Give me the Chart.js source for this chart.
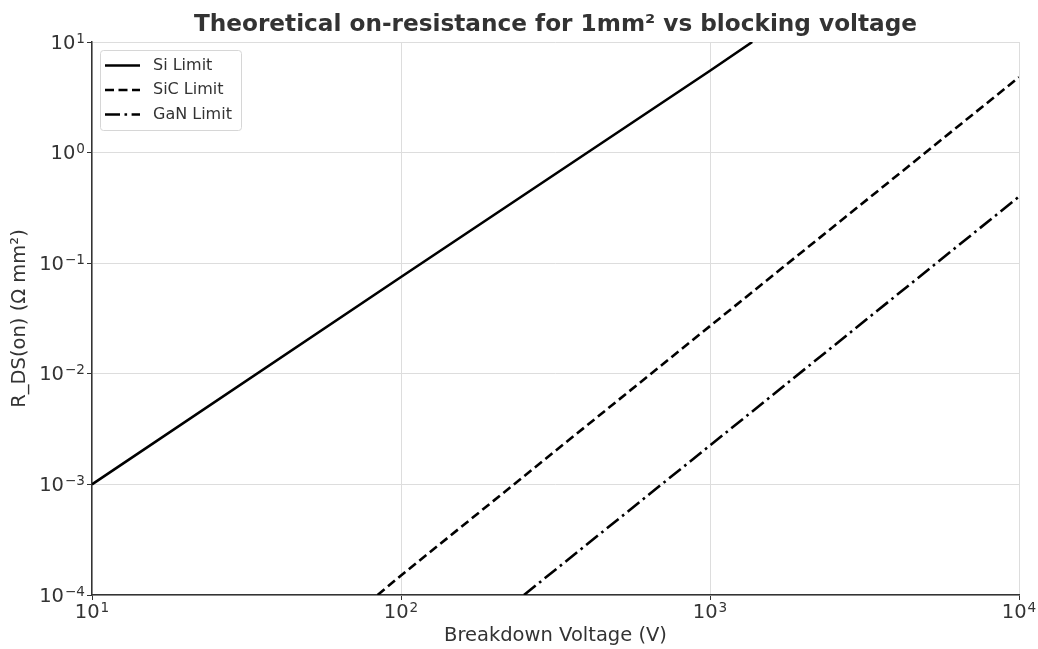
<!DOCTYPE html>
<html>
<head>
<meta charset="utf-8">
<script src="https://cdn.jsdelivr.net/npm/chart.js@4/dist/chart.umd.min.js"></script>
<style>
html,body{margin:0;padding:0;background:#fff;}
#wrap{width:1038px;height:649px;position:relative;}
</style>
</head>
<body>
<div id="wrap"><canvas id="c" width="1038" height="649"></canvas></div>
<script>
// Data (log-log straight lines)
const siVoltage = [10, 100, 1000, 1370];
const siResistance = [0.001, 0.075, 5.5, 10];
const sicVoltage = [84, 100, 1000, 10000];
const sicResistance = [0.0001, 0.00015, 0.027, 4.8];
const ganVoltage = [250, 1000, 10000];
const ganResistance = [0.0001, 0.00225, 0.40];
const seriesLabels = ['Si Limit', 'SiC Limit', 'GaN Limit'];
const xTickValues = [10, 100, 1000, 10000];
const yTickValues = [0.0001, 0.001, 0.01, 0.1, 1, 10];
const chartTitle = 'Theoretical on-resistance for 1mm² vs blocking voltage';
const xTitle = 'Breakdown Voltage (V)';
const yTitle = 'R_DS(on) (Ω mm²)';

const toPoints = (xs, ys) => xs.map((x, i) => ({x: x, y: ys[i]}));
function expOf(v) {
  const e = Math.round(Math.log10(v));
  return (e < 0 ? '\u2212' : '') + Math.abs(e);
}
function keepTicks(list) {
  return function(scale) {
    scale.ticks = list.map(v => ({value: v}));
  };
}

const FONT = "'DejaVu Sans', sans-serif";
const TXT = '#333333';
const BASE = 19.5, SUP = 13.6;

// draws "10^e" with a real superscript; anchor: 'center' (x axis) or 'right' (y axis)
function drawPow(ctx, v, x, y, anchor) {
  const e = expOf(v);
  ctx.font = BASE + 'px ' + FONT;
  const wb = ctx.measureText('10').width;
  ctx.font = SUP + 'px ' + FONT;
  const we = ctx.measureText(e).width;
  const total = wb + 1 + we;
  const left = anchor === 'center' ? x - total / 2 : x - total;
  ctx.textAlign = 'left';
  ctx.textBaseline = 'middle';
  ctx.font = BASE + 'px ' + FONT;
  ctx.fillText('10', left, y);
  ctx.textBaseline = 'alphabetic';
  ctx.font = SUP + 'px ' + FONT;
  ctx.fillText(e, left + wb + 1, y - 1);
}

const decorations = {
  id: 'decorations',
  afterDraw(chart) {
    const ctx = chart.ctx;
    const a = chart.chartArea;
    const xs = chart.scales.x, ys = chart.scales.y;
    ctx.save();
    ctx.fillStyle = TXT;
    // title centred over the plot area
    ctx.font = 'bold 23.2px ' + FONT;
    ctx.textAlign = 'center';
    ctx.textBaseline = 'middle';
    ctx.fillText(chartTitle, (a.left + a.right) / 2, 24.5);
    // tick labels
    xTickValues.forEach(v => drawPow(ctx, v, xs.getPixelForValue(v), a.bottom + 18, 'center'));
    yTickValues.forEach(v => drawPow(ctx, v, a.left - 7, ys.getPixelForValue(v) + 1.5, 'right'));
    // axis titles
    ctx.font = '19.5px ' + FONT;
    ctx.textAlign = 'center';
    ctx.textBaseline = 'middle';
    ctx.fillText(xTitle, (a.left + a.right) / 2, 636);
    ctx.translate(20, (a.top + a.bottom) / 2);
    ctx.rotate(-Math.PI / 2);
    ctx.fillText(yTitle, 0, 0);
    ctx.restore();
  },
  afterDatasetsDraw(chart) {
    const ctx = chart.ctx;
    const a = chart.chartArea;
    const x0 = a.left + 8, y0 = a.top + 8, w = 141, h = 80;
    ctx.save();
    ctx.fillStyle = 'rgba(255,255,255,0.9)';
    ctx.strokeStyle = '#d6d6d6';
    ctx.lineWidth = 1;
    ctx.beginPath();
    ctx.roundRect(x0 + 0.5, y0 + 0.5, w, h, 3);
    ctx.fill();
    ctx.stroke();
    ctx.font = '16px ' + FONT;
    ctx.textBaseline = 'middle';
    ctx.textAlign = 'left';
    chart.data.datasets.forEach((ds, i) => {
      const yy = y0 + 15.5 + i * 24.5;
      ctx.strokeStyle = ds.borderColor;
      ctx.lineWidth = ds.borderWidth;
      ctx.setLineDash(ds.borderDash || []);
      ctx.beginPath();
      ctx.moveTo(x0 + 5, yy);
      ctx.lineTo(x0 + 40, yy);
      ctx.stroke();
      ctx.setLineDash([]);
      ctx.fillStyle = TXT;
      ctx.fillText(ds.label, x0 + 53, yy);
    });
    ctx.restore();
  }
};

new Chart(document.getElementById('c'), {
  type: 'line',
  data: {
    datasets: [
      {label: seriesLabels[0], data: toPoints(siVoltage, siResistance), borderColor: '#000', borderWidth: 2.6, pointRadius: 0, borderDash: []},
      {label: seriesLabels[1], data: toPoints(sicVoltage, sicResistance), borderColor: '#000', borderWidth: 2.6, pointRadius: 0, borderDash: [9, 4.5]},
      {label: seriesLabels[2], data: toPoints(ganVoltage, ganResistance), borderColor: '#000', borderWidth: 2.6, pointRadius: 0, borderDash: [15, 4.5, 2.6, 4.5]}
    ]
  },
  options: {
    responsive: false,
    animation: false,
    events: [],
    layout: {padding: {left: 0, right: 19, top: 42, bottom: 0}},
    plugins: {
      legend: {display: false},
      tooltip: {enabled: false},
      title: {display: false}
    },
    scales: {
      x: {
        type: 'logarithmic',
        min: 10, max: 10000,
        afterBuildTicks: keepTicks(xTickValues),
        afterFit(scale) { scale.height = 54; },
        ticks: {autoSkip: false, maxRotation: 0, callback: () => ''},
        grid: {color: '#dddddd', lineWidth: 1, tickColor: '#333', tickLength: 5},
        border: {display: true, color: '#333', width: 1.5}
      },
      y: {
        type: 'logarithmic',
        min: 0.0001, max: 10,
        afterBuildTicks: keepTicks(yTickValues),
        afterFit(scale) { scale.width = 92; },
        ticks: {autoSkip: false, callback: () => ''},
        grid: {color: '#dddddd', lineWidth: 1, tickColor: '#333', tickLength: 5},
        border: {display: true, color: '#333', width: 1.5}
      }
    }
  },
  plugins: [decorations]
});
</script>
</body>
</html>
